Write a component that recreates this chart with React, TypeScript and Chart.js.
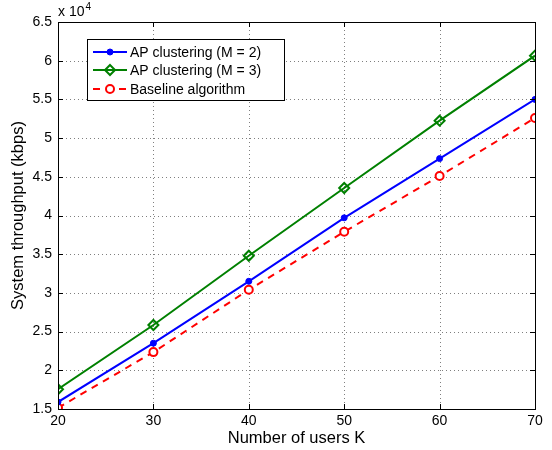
import React, { useEffect, useRef } from "react";
import { Chart, registerables } from "chart.js";

Chart.register(...registerables);

const users = [20, 30, 40, 50, 60, 70];
const apM2 = [15900, 23500, 31500, 39700, 47350, 55000];
const apM3 = [17550, 25850, 34800, 43550, 52250, 60650];
const baseline = [15150, 22350, 30400, 37900, 45100, 52600];
const xTicks = [20, 30, 40, 50, 60, 70];
const yTicks = [15000, 20000, 25000, 30000, 35000, 40000, 45000, 50000, 55000, 60000, 65000];
const seriesNames = ["AP clustering (M = 2)", "AP clustering (M = 3)", "Baseline algorithm"];

const FONT = "Liberation Sans, Arial, Helvetica, sans-serif";

const matlabPlugin = {
  id: "matlabAxes",
  beforeDatasetsDraw(chart: any) {
    const { ctx, chartArea: a, scales } = chart;
    ctx.save();
    ctx.strokeStyle = "#7f7f7f";
    ctx.lineWidth = 1;
    ctx.setLineDash([1, 3]);
    for (const v of xTicks) {
      const x = Math.round(scales.x.getPixelForValue(v)) + 0.5;
      if (x <= a.left + 1 || x >= a.right - 1) continue;
      ctx.beginPath();
      ctx.moveTo(x, a.top);
      ctx.lineTo(x, a.bottom);
      ctx.stroke();
    }
    for (const v of yTicks) {
      const y = Math.round(scales.y.getPixelForValue(v)) + 0.5;
      if (y <= a.top + 1 || y >= a.bottom - 1) continue;
      ctx.beginPath();
      ctx.moveTo(a.left, y);
      ctx.lineTo(a.right, y);
      ctx.stroke();
    }
    ctx.restore();
  },
  afterDraw(chart: any) {
    const { ctx, chartArea: a, scales } = chart;
    ctx.save();
    ctx.setLineDash([]);
    ctx.strokeStyle = "#000";
    ctx.lineWidth = 1;
    ctx.strokeRect(Math.round(a.left) + 0.5, Math.round(a.top) + 0.5, Math.round(a.right - a.left), Math.round(a.bottom - a.top));
    const tl = 5;
    for (const v of xTicks) {
      const x = Math.round(scales.x.getPixelForValue(v)) + 0.5;
      ctx.beginPath();
      ctx.moveTo(x, a.bottom);
      ctx.lineTo(x, a.bottom - tl);
      ctx.moveTo(x, a.top);
      ctx.lineTo(x, a.top + tl);
      ctx.stroke();
    }
    for (const v of yTicks) {
      const y = Math.round(scales.y.getPixelForValue(v)) + 0.5;
      ctx.beginPath();
      ctx.moveTo(a.left, y);
      ctx.lineTo(a.left + tl, y);
      ctx.moveTo(a.right, y);
      ctx.lineTo(a.right - tl, y);
      ctx.stroke();
    }
    // exponent label
    ctx.fillStyle = "#000";
    ctx.font = `14px ${FONT}`;
    ctx.textBaseline = "alphabetic";
    ctx.textAlign = "left";
    ctx.fillText("x 10", a.left, a.top - 6);
    const w = ctx.measureText("x 10").width;
    ctx.font = `10px ${FONT}`;
    ctx.fillText("4", a.left + w + 1, a.top - 12);

    // legend
    const lx = 87, ly = 39, lw = 197, lh = 61;
    ctx.fillStyle = "#fff";
    ctx.fillRect(lx, ly, lw, lh);
    ctx.strokeStyle = "#000";
    ctx.lineWidth = 1;
    ctx.strokeRect(lx + 0.5, ly + 0.5, lw, lh);
    const rowsY = [52, 70, 89];
    chart.data.datasets.forEach((ds: any, i: number) => {
      const y = rowsY[i];
      ctx.strokeStyle = ds.borderColor;
      ctx.lineWidth = 2;
      ctx.setLineDash(ds.borderDash || []);
      ctx.beginPath();
      ctx.moveTo(93, y);
      ctx.lineTo(127, y);
      ctx.stroke();
      ctx.setLineDash([]);
      const cx = 110;
      ctx.lineWidth = ds.pointBorderWidth;
      ctx.strokeStyle = ds.pointBorderColor;
      ctx.fillStyle = ds.pointBackgroundColor;
      const r = ds.pointRadius;
      ctx.beginPath();
      if (ds.pointStyle === "rectRot") {
        ctx.moveTo(cx, y - r);
        ctx.lineTo(cx + r, y);
        ctx.lineTo(cx, y + r);
        ctx.lineTo(cx - r, y);
        ctx.closePath();
      } else {
        ctx.arc(cx, y, r, 0, Math.PI * 2);
      }
      ctx.fill();
      ctx.stroke();
      ctx.fillStyle = "#000";
      ctx.font = `14px ${FONT}`;
      ctx.textBaseline = "middle";
      ctx.fillText(seriesNames[i], 130, y + 1);
    });
    ctx.restore();
  },
};

export default function App() {
  const ref = useRef<HTMLCanvasElement>(null);
  useEffect(() => {
    if (!ref.current) return;
    const chart = new Chart(ref.current, {
      type: "line",
      data: {
        datasets: [
          {
            label: seriesNames[0],
            data: users.map((u, i) => ({ x: u, y: apM2[i] })),
            borderColor: "#0000ff",
            borderWidth: 2,
            pointStyle: "circle",
            pointRadius: 3,
            pointBorderWidth: 1,
            pointBorderColor: "#0000ff",
            pointBackgroundColor: "#0000ff",
          },
          {
            label: seriesNames[1],
            data: users.map((u, i) => ({ x: u, y: apM3[i] })),
            borderColor: "#008000",
            borderWidth: 2,
            pointStyle: "rectRot",
            pointRadius: 5,
            pointBorderWidth: 2,
            pointBorderColor: "#008000",
            pointBackgroundColor: "rgba(255,255,255,0)",
          },
          {
            label: seriesNames[2],
            data: users.map((u, i) => ({ x: u, y: baseline[i] })),
            borderColor: "#ff0000",
            borderWidth: 2,
            borderDash: [7, 6],
            pointStyle: "circle",
            pointRadius: 4,
            pointBorderWidth: 2,
            pointBorderColor: "#ff0000",
            pointBackgroundColor: "#ffffff",
          },
        ],
      },
      options: {
        responsive: false,
        animation: false,
        layout: { padding: { left: 0, right: 17, top: 22, bottom: 0 } },
        plugins: { legend: { display: false }, tooltip: { enabled: false } },
        scales: {
          x: {
            type: "linear",
            min: 20,
            max: 70,
            afterBuildTicks: (s: any) => {
              s.ticks = xTicks.map((v) => ({ value: v }));
            },
            afterFit: (s: any) => {
              s.height = 41;
            },
            grid: { display: false, drawTicks: false },
            border: { display: false },
            ticks: { color: "#000", font: { family: FONT, size: 14 }, padding: 4, maxRotation: 0 },
            title: {
              display: true,
              text: "Number of users K",
              color: "#000",
              font: { family: FONT, size: 16.5 },
              padding: { top: 0, bottom: 2 },
            },
          },
          y: {
            type: "linear",
            min: 15000,
            max: 65000,
            afterBuildTicks: (s: any) => {
              s.ticks = yTicks.map((v) => ({ value: v }));
            },
            afterFit: (s: any) => {
              s.width = 58;
            },
            grid: { display: false, drawTicks: false },
            border: { display: false },
            ticks: {
              color: "#000",
              font: { family: FONT, size: 14 },
              padding: 6,
              callback: (v: any) => String(Number(v) / 10000),
            },
            title: {
              display: true,
              text: "System throughput (kbps)",
              color: "#000",
              font: { family: FONT, size: 16.5 },
              padding: { top: 9, bottom: 0 },
            },
          },
        },
      },
      plugins: [matlabPlugin],
    } as any);
    return () => chart.destroy();
  }, []);
  return (
    <div style={{ position: "fixed", left: 0, top: 0, width: 552, height: 450, background: "#fff" }}>
      <canvas ref={ref} width={552} height={450} style={{ display: "block", width: 552, height: 450 }} />
    </div>
  );
}
